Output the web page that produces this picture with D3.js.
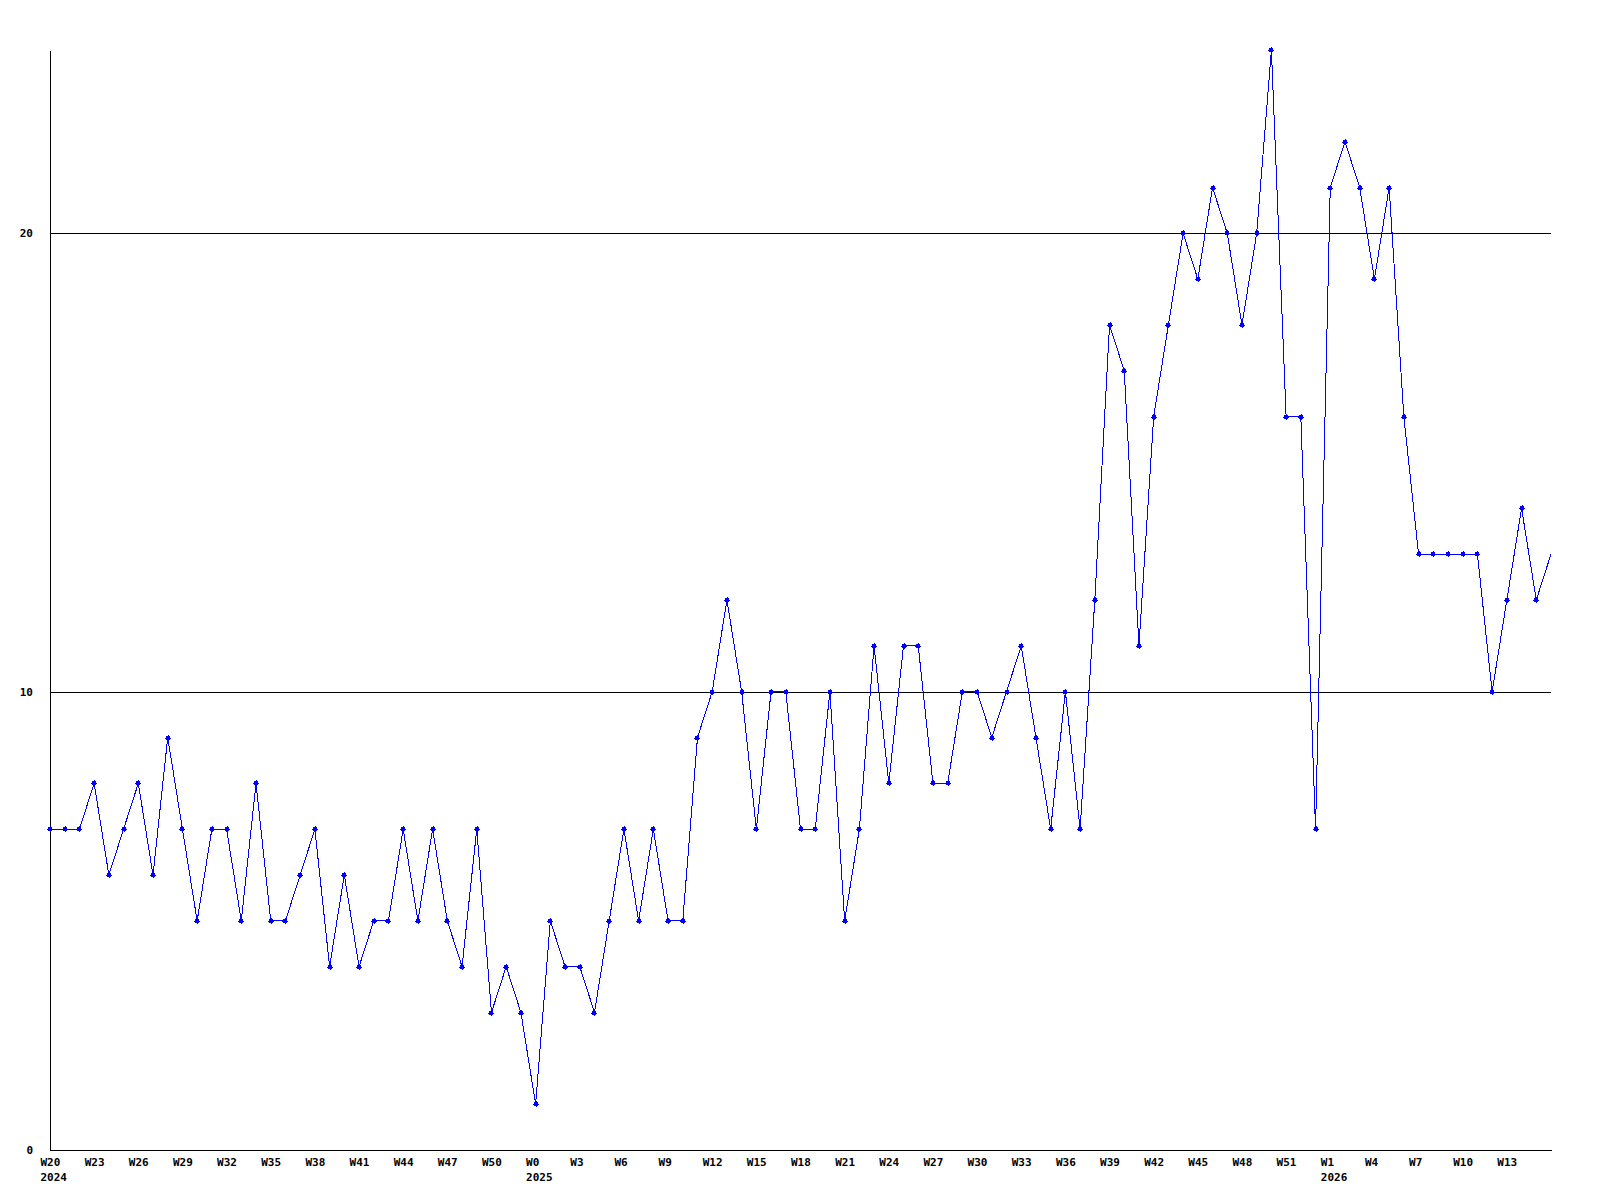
<!DOCTYPE html>
<html>
<head>
<meta charset="utf-8">
<script src="https://cdn.jsdelivr.net/npm/d3@7"></script>
<style>
  html, body { margin: 0; padding: 0; background: #fff; }
  svg { display: block; }
  text { font-family: "DejaVu Sans Mono", "Liberation Mono", monospace; font-weight: bold; font-size: 11px; fill: #000; }
</style>
</head>
<body>
<svg id="chart" width="1600" height="1200"></svg>
<script>
// Weekly values, W20 2024 through W16 2026 (one per week)
const values = [
  7, 7, 7, 8, 6, 7, 8, 6, 9, 7,
  5, 7, 7, 5, 8, 5, 5, 6, 7, 4,
  6, 4, 5, 5, 7, 5, 7, 5, 4, 7,
  3, 4, 3, 1, 5, 4, 4, 3, 5, 7,
  5, 7, 5, 5, 9, 10, 12, 10, 7, 10,
  10, 7, 7, 10, 5, 7, 11, 8, 11, 11,
  8, 8, 10, 10, 9, 10, 11, 9, 7, 10,
  7, 12, 18, 17, 11, 16, 18, 20, 19, 21,
  20, 18, 20, 24, 16, 16, 7, 21, 22, 21,
  19, 21, 16, 13, 13, 13, 13, 13, 10, 12,
  14, 12, 13
];
// Tick labels, every third week
const tickLabels = ["W20","W23","W26","W29","W32","W35","W38","W41","W44","W47","W50",
  "W0","W3","W6","W9","W12","W15","W18","W21","W24","W27","W30","W33","W36","W39","W42","W45","W48","W51",
  "W1","W4","W7","W10","W13"];
const tickStep = 3;
const yearLabels = ["2024", "2025", "2026"];
const yearTickIndex = [0, 11, 29];   // which tick carries a year label
const yTicks = [0, 10, 20];
const yMax = 24;

(function () {
const svg = d3.select("#chart");
svg.append("rect").attr("width", 1600).attr("height", 1200).attr("fill", "#fff");

const mLeft = 50, mRight = 1551, mTop = 50, mBottom = 1150;
const x = d3.scaleLinear().domain([0, values.length - 1]).range([mLeft, mRight]);
const y = d3.scaleLinear().domain([0, yMax]).range([mBottom, mTop]);

// gridlines
svg.append("g").selectAll("line").data(yTicks.filter(v => v > 0)).join("line")
  .attr("x1", mLeft).attr("x2", mRight)
  .attr("y1", d => Math.round(y(d)) + 0.5).attr("y2", d => Math.round(y(d)) + 0.5)
  .attr("stroke", "#000").attr("stroke-width", 1)
  .attr("shape-rendering", "crispEdges");

// y axis
const yAxis = svg.append("g").attr("transform", `translate(${mLeft},0)`)
  .call(d3.axisLeft(y).tickValues(yTicks).tickSize(0).tickPadding(17).tickSizeOuter(0).tickFormat(d3.format("d")));
yAxis.attr("font-family", null).attr("font-size", null);
yAxis.select(".domain").attr("stroke", "#000").attr("shape-rendering", "crispEdges");

// x axis
const tickVals = tickLabels.map((_, i) => i * tickStep);
const xAxis = svg.append("g").attr("transform", `translate(0,${mBottom})`)
  .call(d3.axisBottom(x).tickValues(tickVals).tickSize(0).tickPadding(8).tickSizeOuter(0)
    .tickFormat((d, i) => tickLabels[i]));
xAxis.attr("font-family", null).attr("font-size", null);
xAxis.select(".domain").attr("stroke", "#000").attr("shape-rendering", "crispEdges");
xAxis.selectAll(".tick text")
  .attr("text-anchor", "start")
  .attr("x", -10)
  .each(function(d, i) {
    const k = yearTickIndex.indexOf(i);
    if (k >= 0) {
      d3.select(this).append("tspan")
        .attr("x", -10).attr("dy", "1.36em").text(yearLabels[k]);
    }
  });

// data line
const line = d3.line().x((d, i) => x(i)).y(d => y(d));
svg.append("path").datum(values)
  .attr("d", line)
  .attr("fill", "none")
  .attr("stroke", "#0000ff")
  .attr("stroke-width", 1)
  .attr("shape-rendering", "crispEdges");

// markers
const mk = svg.append("g").attr("fill", "#0000ff").attr("stroke", "#0000ff");
mk.selectAll("path").data(values.slice(0, values.length - 1)).join("path")
  .attr("transform", (d, i) => `translate(${Math.round(x(i))},${Math.round(y(d))})`)
  .attr("d", "M-3,0H3M0,-3V3M-1.5,-1.5H1.5V1.5H-1.5Z")
  .attr("stroke-width", 1)
  .attr("shape-rendering", "crispEdges");
})();
</script>
</body>
</html>
